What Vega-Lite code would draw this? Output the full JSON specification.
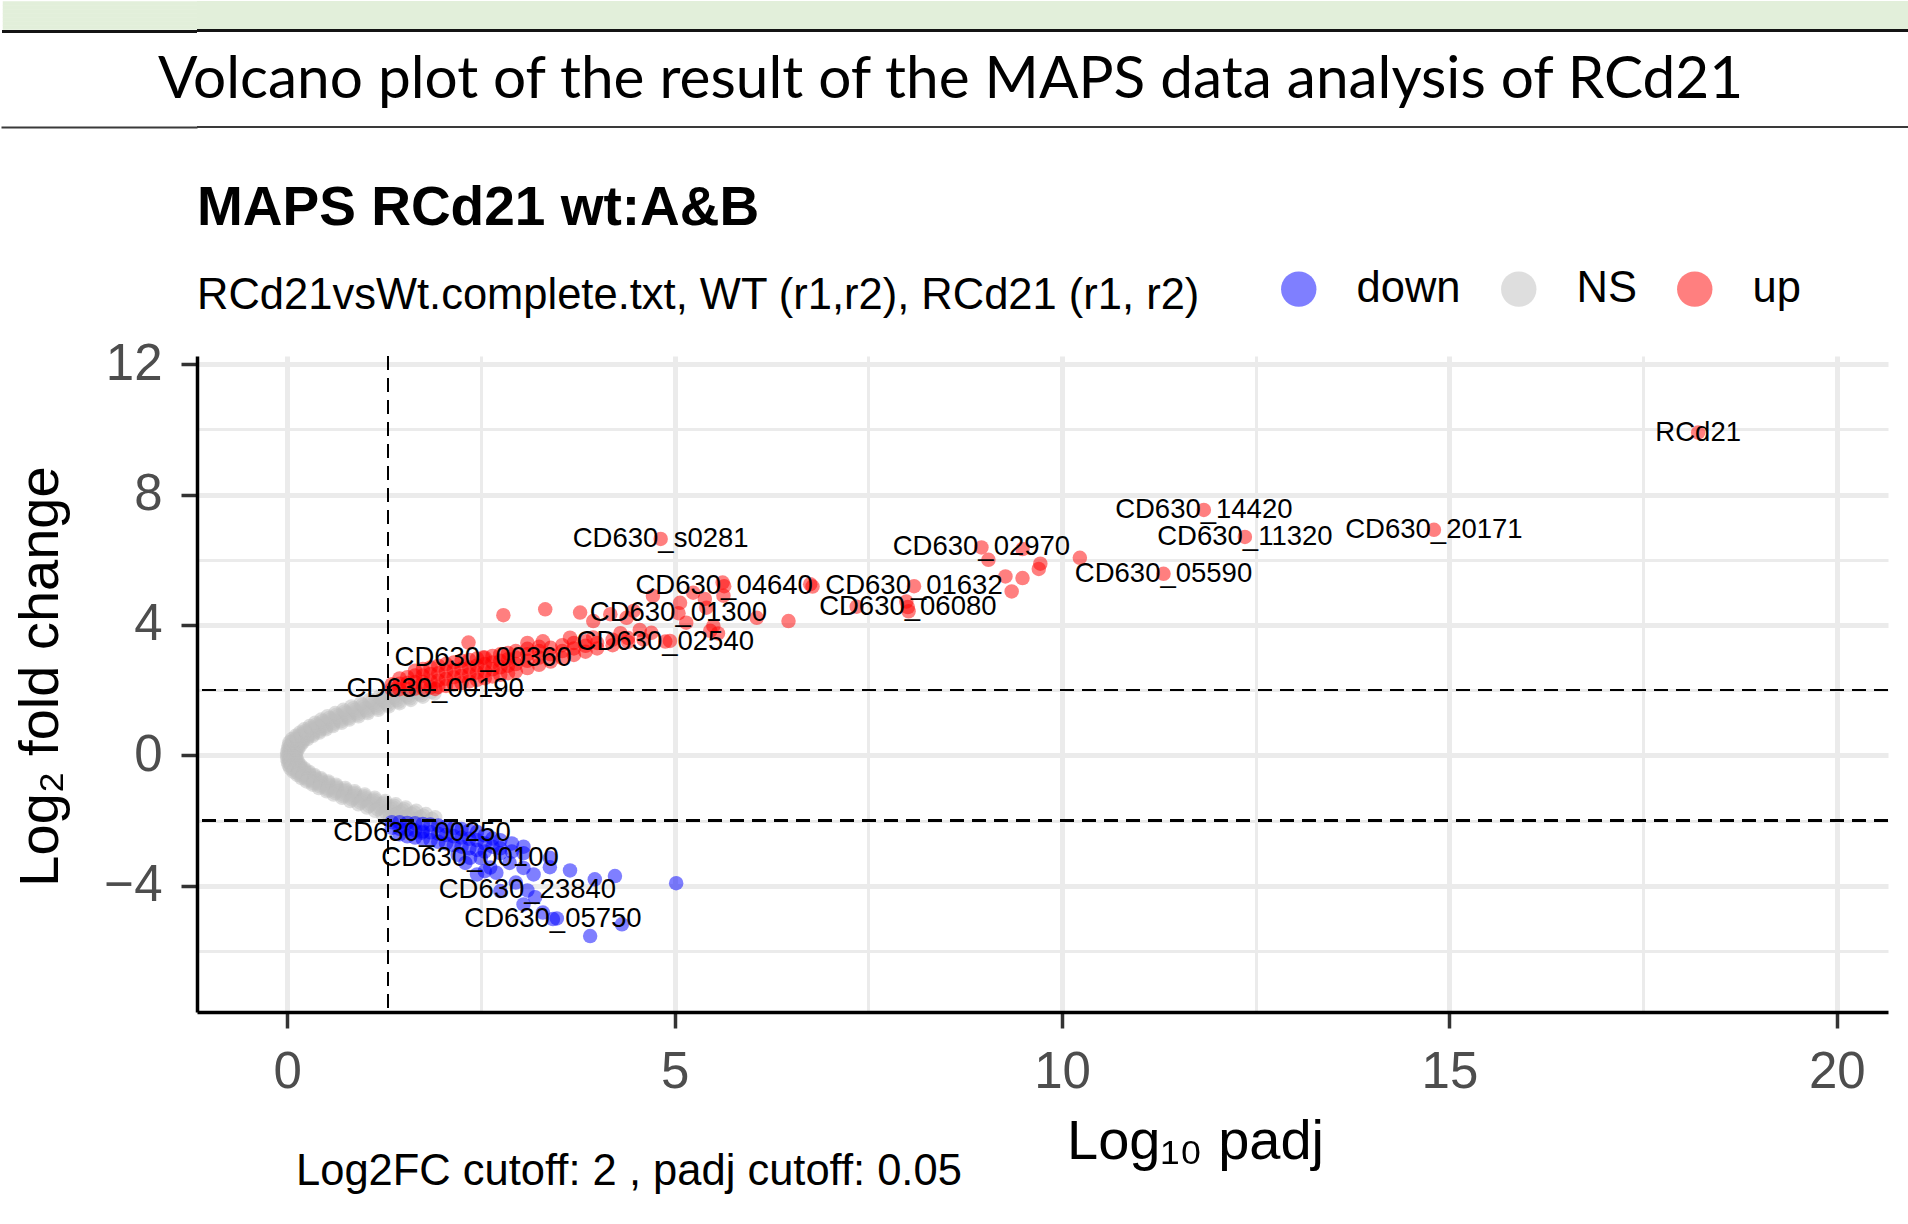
{
"$schema": "https://vega.github.io/schema/vega-lite/v6.json",
"padding": 0,
"background": "white",
"columns": 1,
"align": "none",
"spacing": 53,
"resolve": {"scale": {"color": "independent"}},
"config": {"view": {"stroke": null}, "font": "Liberation Sans"},
"datasets": {
"pts": [
{"x":0,"y":0,"g":"NS"},{"x":0.037,"y":0,"g":"NS"},{"x":0.073,"y":0,"g":"NS"},{"x":0.11,"y":0,"g":"NS"},
{"x":0.019,"y":0.05,"g":"NS"},{"x":0.058,"y":0.05,"g":"NS"},{"x":0.096,"y":0.05,"g":"NS"},
{"x":0,"y":0.1,"g":"NS"},{"x":0.04,"y":0.1,"g":"NS"},{"x":0.08,"y":0.1,"g":"NS"},{"x":0.12,"y":0.1,"g":"NS"},
{"x":0.026,"y":0.15,"g":"NS"},{"x":0.068,"y":0.15,"g":"NS"},{"x":0.109,"y":0.15,"g":"NS"},
{"x":0.01,"y":0.2,"g":"NS"},{"x":0.053,"y":0.2,"g":"NS"},{"x":0.097,"y":0.2,"g":"NS"},{"x":0.14,"y":0.2,"g":"NS"},
{"x":0.038,"y":0.25,"g":"NS"},{"x":0.085,"y":0.25,"g":"NS"},{"x":0.132,"y":0.25,"g":"NS"},
{"x":0.02,"y":0.3,"g":"NS"},{"x":0.07,"y":0.3,"g":"NS"},{"x":0.12,"y":0.3,"g":"NS"},{"x":0.17,"y":0.3,"g":"NS"},
{"x":0.052,"y":0.35,"g":"NS"},{"x":0.105,"y":0.35,"g":"NS"},{"x":0.158,"y":0.35,"g":"NS"},
{"x":0.03,"y":0.4,"g":"NS"},{"x":0.087,"y":0.4,"g":"NS"},{"x":0.143,"y":0.4,"g":"NS"},{"x":0.2,"y":0.4,"g":"NS"},
{"x":0.076,"y":0.45,"g":"NS"},{"x":0.138,"y":0.45,"g":"NS"},{"x":0.199,"y":0.45,"g":"NS"},
{"x":0.06,"y":0.5,"g":"NS"},{"x":0.127,"y":0.5,"g":"NS"},{"x":0.193,"y":0.5,"g":"NS"},{"x":0.26,"y":0.5,"g":"NS"},
{"x":0.12,"y":0.55,"g":"NS"},{"x":0.19,"y":0.55,"g":"NS"},{"x":0.26,"y":0.55,"g":"NS"},
{"x":0.11,"y":0.6,"g":"NS"},{"x":0.183,"y":0.6,"g":"NS"},{"x":0.257,"y":0.6,"g":"NS"},{"x":0.33,"y":0.6,"g":"NS"},
{"x":0.177,"y":0.65,"g":"NS"},{"x":0.255,"y":0.65,"g":"NS"},{"x":0.334,"y":0.65,"g":"NS"},
{"x":0.165,"y":0.7,"g":"NS"},{"x":0.248,"y":0.7,"g":"NS"},{"x":0.332,"y":0.7,"g":"NS"},{"x":0.415,"y":0.7,"g":"NS"},
{"x":0.237,"y":0.75,"g":"NS"},{"x":0.325,"y":0.75,"g":"NS"},{"x":0.414,"y":0.75,"g":"NS"},
{"x":0.22,"y":0.8,"g":"NS"},{"x":0.313,"y":0.8,"g":"NS"},{"x":0.407,"y":0.8,"g":"NS"},{"x":0.5,"y":0.8,"g":"NS"},
{"x":0.303,"y":0.85,"g":"NS"},{"x":0.4,"y":0.85,"g":"NS"},{"x":0.497,"y":0.85,"g":"NS"},
{"x":0.29,"y":0.9,"g":"NS"},{"x":0.39,"y":0.9,"g":"NS"},{"x":0.49,"y":0.9,"g":"NS"},{"x":0.59,"y":0.9,"g":"NS"},
{"x":0.378,"y":0.95,"g":"NS"},{"x":0.485,"y":0.95,"g":"NS"},{"x":0.592,"y":0.95,"g":"NS"},
{"x":0.36,"y":1.0,"g":"NS"},{"x":0.473,"y":1.0,"g":"NS"},{"x":0.587,"y":1.0,"g":"NS"},{"x":0.7,"y":1.0,"g":"NS"},
{"x":0.458,"y":1.05,"g":"NS"},{"x":0.575,"y":1.05,"g":"NS"},{"x":0.692,"y":1.05,"g":"NS"},
{"x":0.44,"y":1.1,"g":"NS"},{"x":0.56,"y":1.1,"g":"NS"},{"x":0.68,"y":1.1,"g":"NS"},{"x":0.8,"y":1.1,"g":"NS"},
{"x":0.543,"y":1.15,"g":"NS"},{"x":0.67,"y":1.15,"g":"NS"},{"x":0.797,"y":1.15,"g":"NS"},
{"x":0.52,"y":1.2,"g":"NS"},{"x":0.653,"y":1.2,"g":"NS"},{"x":0.787,"y":1.2,"g":"NS"},{"x":0.92,"y":1.2,"g":"NS"},
{"x":0.638,"y":1.25,"g":"NS"},{"x":0.775,"y":1.25,"g":"NS"},{"x":0.912,"y":1.25,"g":"NS"},
{"x":0.62,"y":1.3,"g":"NS"},{"x":0.76,"y":1.3,"g":"NS"},{"x":0.9,"y":1.3,"g":"NS"},{"x":1.04,"y":1.3,"g":"NS"},
{"x":0.745,"y":1.35,"g":"NS"},{"x":0.89,"y":1.35,"g":"NS"},{"x":1.035,"y":1.35,"g":"NS"},
{"x":0.725,"y":1.4,"g":"NS"},{"x":0.875,"y":1.4,"g":"NS"},{"x":1.025,"y":1.4,"g":"NS"},{"x":1.175,"y":1.4,"g":"NS"},
{"x":0.855,"y":1.45,"g":"NS"},{"x":1.01,"y":1.45,"g":"NS"},{"x":1.165,"y":1.45,"g":"NS"},
{"x":0.83,"y":1.5,"g":"NS"},{"x":0.99,"y":1.5,"g":"NS"},{"x":1.15,"y":1.5,"g":"NS"},{"x":1.31,"y":1.5,"g":"NS"},
{"x":0.972,"y":1.55,"g":"NS"},{"x":1.135,"y":1.55,"g":"NS"},{"x":1.298,"y":1.55,"g":"NS"},
{"x":0.95,"y":1.6,"g":"NS"},{"x":1.117,"y":1.6,"g":"NS"},{"x":1.283,"y":1.6,"g":"NS"},{"x":1.45,"y":1.6,"g":"NS"},
{"x":1.094,"y":1.65,"g":"NS"},{"x":1.265,"y":1.65,"g":"NS"},{"x":1.437,"y":1.65,"g":"NS"},
{"x":1.065,"y":1.7,"g":"NS"},{"x":1.242,"y":1.7,"g":"NS"},{"x":1.418,"y":1.7,"g":"NS"},{"x":1.595,"y":1.7,"g":"NS"},
{"x":1.218,"y":1.75,"g":"NS"},{"x":1.4,"y":1.75,"g":"NS"},{"x":1.582,"y":1.75,"g":"NS"},
{"x":1.19,"y":1.8,"g":"NS"},{"x":1.377,"y":1.8,"g":"NS"},{"x":1.563,"y":1.8,"g":"NS"},{"x":1.75,"y":1.8,"g":"NS"},
{"x":1.35,"y":1.85,"g":"NS"},{"x":1.54,"y":1.85,"g":"NS"},{"x":1.73,"y":1.85,"g":"NS"},
{"x":1.32,"y":1.9,"g":"NS"},{"x":1.513,"y":1.9,"g":"NS"},{"x":1.707,"y":1.9,"g":"NS"},{"x":1.9,"y":1.9,"g":"NS"},
{"x":1.468,"y":1.95,"g":"NS"},{"x":1.665,"y":1.95,"g":"NS"},{"x":1.862,"y":1.95,"g":"NS"},
{"x":0.019,"y":-0.05,"g":"NS"},{"x":0.058,"y":-0.05,"g":"NS"},{"x":0.096,"y":-0.05,"g":"NS"},
{"x":0,"y":-0.1,"g":"NS"},{"x":0.04,"y":-0.1,"g":"NS"},{"x":0.08,"y":-0.1,"g":"NS"},{"x":0.12,"y":-0.1,"g":"NS"},
{"x":0.026,"y":-0.15,"g":"NS"},{"x":0.068,"y":-0.15,"g":"NS"},{"x":0.109,"y":-0.15,"g":"NS"},
{"x":0.01,"y":-0.2,"g":"NS"},{"x":0.053,"y":-0.2,"g":"NS"},{"x":0.097,"y":-0.2,"g":"NS"},{"x":0.14,"y":-0.2,"g":"NS"},
{"x":0.038,"y":-0.25,"g":"NS"},{"x":0.085,"y":-0.25,"g":"NS"},{"x":0.132,"y":-0.25,"g":"NS"},
{"x":0.02,"y":-0.3,"g":"NS"},{"x":0.07,"y":-0.3,"g":"NS"},{"x":0.12,"y":-0.3,"g":"NS"},{"x":0.17,"y":-0.3,"g":"NS"},
{"x":0.058,"y":-0.35,"g":"NS"},{"x":0.113,"y":-0.35,"g":"NS"},{"x":0.168,"y":-0.35,"g":"NS"},
{"x":0.04,"y":-0.4,"g":"NS"},{"x":0.1,"y":-0.4,"g":"NS"},{"x":0.16,"y":-0.4,"g":"NS"},{"x":0.22,"y":-0.4,"g":"NS"},
{"x":0.092,"y":-0.45,"g":"NS"},{"x":0.155,"y":-0.45,"g":"NS"},{"x":0.218,"y":-0.45,"g":"NS"},
{"x":0.08,"y":-0.5,"g":"NS"},{"x":0.147,"y":-0.5,"g":"NS"},{"x":0.213,"y":-0.5,"g":"NS"},{"x":0.28,"y":-0.5,"g":"NS"},
{"x":0.14,"y":-0.55,"g":"NS"},{"x":0.21,"y":-0.55,"g":"NS"},{"x":0.28,"y":-0.55,"g":"NS"},
{"x":0.13,"y":-0.6,"g":"NS"},{"x":0.203,"y":-0.6,"g":"NS"},{"x":0.277,"y":-0.6,"g":"NS"},{"x":0.35,"y":-0.6,"g":"NS"},
{"x":0.197,"y":-0.65,"g":"NS"},{"x":0.275,"y":-0.65,"g":"NS"},{"x":0.354,"y":-0.65,"g":"NS"},
{"x":0.185,"y":-0.7,"g":"NS"},{"x":0.268,"y":-0.7,"g":"NS"},{"x":0.352,"y":-0.7,"g":"NS"},{"x":0.435,"y":-0.7,"g":"NS"},
{"x":0.262,"y":-0.75,"g":"NS"},{"x":0.35,"y":-0.75,"g":"NS"},{"x":0.439,"y":-0.75,"g":"NS"},
{"x":0.25,"y":-0.8,"g":"NS"},{"x":0.343,"y":-0.8,"g":"NS"},{"x":0.437,"y":-0.8,"g":"NS"},{"x":0.53,"y":-0.8,"g":"NS"},
{"x":0.338,"y":-0.85,"g":"NS"},{"x":0.435,"y":-0.85,"g":"NS"},{"x":0.532,"y":-0.85,"g":"NS"},
{"x":0.33,"y":-0.9,"g":"NS"},{"x":0.43,"y":-0.9,"g":"NS"},{"x":0.53,"y":-0.9,"g":"NS"},{"x":0.63,"y":-0.9,"g":"NS"},
{"x":0.423,"y":-0.95,"g":"NS"},{"x":0.53,"y":-0.95,"g":"NS"},{"x":0.637,"y":-0.95,"g":"NS"},
{"x":0.41,"y":-1.0,"g":"NS"},{"x":0.523,"y":-1.0,"g":"NS"},{"x":0.637,"y":-1.0,"g":"NS"},{"x":0.75,"y":-1.0,"g":"NS"},
{"x":0.518,"y":-1.05,"g":"NS"},{"x":0.635,"y":-1.05,"g":"NS"},{"x":0.752,"y":-1.05,"g":"NS"},
{"x":0.51,"y":-1.1,"g":"NS"},{"x":0.63,"y":-1.1,"g":"NS"},{"x":0.75,"y":-1.1,"g":"NS"},{"x":0.87,"y":-1.1,"g":"NS"},
{"x":0.618,"y":-1.15,"g":"NS"},{"x":0.745,"y":-1.15,"g":"NS"},{"x":0.872,"y":-1.15,"g":"NS"},
{"x":0.6,"y":-1.2,"g":"NS"},{"x":0.733,"y":-1.2,"g":"NS"},{"x":0.867,"y":-1.2,"g":"NS"},{"x":1.0,"y":-1.2,"g":"NS"},
{"x":0.723,"y":-1.25,"g":"NS"},{"x":0.86,"y":-1.25,"g":"NS"},{"x":0.997,"y":-1.25,"g":"NS"},
{"x":0.71,"y":-1.3,"g":"NS"},{"x":0.85,"y":-1.3,"g":"NS"},{"x":0.99,"y":-1.3,"g":"NS"},{"x":1.13,"y":-1.3,"g":"NS"},
{"x":0.835,"y":-1.35,"g":"NS"},{"x":0.98,"y":-1.35,"g":"NS"},{"x":1.125,"y":-1.35,"g":"NS"},
{"x":0.815,"y":-1.4,"g":"NS"},{"x":0.965,"y":-1.4,"g":"NS"},{"x":1.115,"y":-1.4,"g":"NS"},{"x":1.265,"y":-1.4,"g":"NS"},
{"x":0.945,"y":-1.45,"g":"NS"},{"x":1.1,"y":-1.45,"g":"NS"},{"x":1.255,"y":-1.45,"g":"NS"},
{"x":0.92,"y":-1.5,"g":"NS"},{"x":1.08,"y":-1.5,"g":"NS"},{"x":1.24,"y":-1.5,"g":"NS"},{"x":1.4,"y":-1.5,"g":"NS"},
{"x":1.057,"y":-1.55,"g":"NS"},{"x":1.22,"y":-1.55,"g":"NS"},{"x":1.383,"y":-1.55,"g":"NS"},
{"x":1.03,"y":-1.6,"g":"NS"},{"x":1.197,"y":-1.6,"g":"NS"},{"x":1.363,"y":-1.6,"g":"NS"},{"x":1.53,"y":-1.6,"g":"NS"},
{"x":1.169,"y":-1.65,"g":"NS"},{"x":1.34,"y":-1.65,"g":"NS"},{"x":1.512,"y":-1.65,"g":"NS"},
{"x":1.135,"y":-1.7,"g":"NS"},{"x":1.312,"y":-1.7,"g":"NS"},{"x":1.488,"y":-1.7,"g":"NS"},{"x":1.665,"y":-1.7,"g":"NS"},
{"x":1.274,"y":-1.75,"g":"NS"},{"x":1.455,"y":-1.75,"g":"NS"},{"x":1.637,"y":-1.75,"g":"NS"},
{"x":1.23,"y":-1.8,"g":"NS"},{"x":1.417,"y":-1.8,"g":"NS"},{"x":1.603,"y":-1.8,"g":"NS"},{"x":1.79,"y":-1.8,"g":"NS"},
{"x":1.375,"y":-1.85,"g":"NS"},{"x":1.565,"y":-1.85,"g":"NS"},{"x":1.755,"y":-1.85,"g":"NS"},
{"x":1.33,"y":-1.9,"g":"NS"},{"x":1.523,"y":-1.9,"g":"NS"},{"x":1.717,"y":-1.9,"g":"NS"},{"x":1.91,"y":-1.9,"g":"NS"},
{"x":1.473,"y":-1.95,"g":"NS"},{"x":1.67,"y":-1.95,"g":"NS"},{"x":1.867,"y":-1.95,"g":"NS"},

{"x":1.35,"y":-2.05,"g":"down"},{"x":1.35,"y":-2.22,"g":"down"},
{"x":1.45,"y":-2.05,"g":"down"},{"x":1.45,"y":-2.25,"g":"down"},{"x":1.45,"y":-2.42,"g":"down"},
{"x":1.55,"y":-2.07,"g":"down"},{"x":1.55,"y":-2.28,"g":"down"},{"x":1.55,"y":-2.48,"g":"down"},
{"x":1.65,"y":-2.08,"g":"down"},{"x":1.65,"y":-2.3,"g":"down"},{"x":1.65,"y":-2.52,"g":"down"},
{"x":1.75,"y":-2.1,"g":"down"},{"x":1.75,"y":-2.33,"g":"down"},{"x":1.75,"y":-2.56,"g":"down"},
{"x":1.85,"y":-2.12,"g":"down"},{"x":1.85,"y":-2.36,"g":"down"},{"x":1.85,"y":-2.6,"g":"down"},
{"x":1.95,"y":-2.15,"g":"down"},{"x":1.95,"y":-2.4,"g":"down"},{"x":1.95,"y":-2.65,"g":"down"},
{"x":2.05,"y":-2.18,"g":"down"},{"x":2.05,"y":-2.44,"g":"down"},{"x":2.05,"y":-2.7,"g":"down"},
{"x":2.15,"y":-2.22,"g":"down"},{"x":2.15,"y":-2.48,"g":"down"},{"x":2.15,"y":-2.75,"g":"down"},
{"x":2.25,"y":-2.26,"g":"down"},{"x":2.25,"y":-2.52,"g":"down"},{"x":2.25,"y":-2.8,"g":"down"},
{"x":2.35,"y":-2.3,"g":"down"},{"x":2.35,"y":-2.56,"g":"down"},{"x":2.35,"y":-2.85,"g":"down"},
{"x":2.45,"y":-2.35,"g":"down"},{"x":2.45,"y":-2.6,"g":"down"},{"x":2.45,"y":-2.9,"g":"down"},
{"x":2.55,"y":-2.45,"g":"down"},{"x":2.55,"y":-2.7,"g":"down"},{"x":2.55,"y":-2.95,"g":"down"},
{"x":2.65,"y":-2.55,"g":"down"},{"x":2.65,"y":-2.8,"g":"down"},
{"x":2.75,"y":-2.6,"g":"down"},{"x":2.75,"y":-2.85,"g":"down"},{"x":2.75,"y":-3.0,"g":"down"},
{"x":2.9,"y":-2.7,"g":"down"},{"x":2.9,"y":-2.95,"g":"down"},
{"x":3.05,"y":-2.8,"g":"down"},{"x":3.05,"y":-3.0,"g":"down"},
{"x":5.02,"y":-3.92,"g":"down"},{"x":4.23,"y":-3.70,"g":"down"},{"x":3.97,"y":-3.80,"g":"down"},
{"x":3.65,"y":-3.53,"g":"down"},{"x":3.39,"y":-3.14,"g":"down"},{"x":3.18,"y":-3.65,"g":"down"},
{"x":3.91,"y":-5.54,"g":"down"},{"x":4.32,"y":-5.18,"g":"down"},{"x":3.48,"y":-5.0,"g":"down"},
{"x":3.30,"y":-4.82,"g":"down"},{"x":3.05,"y":-4.57,"g":"down"},{"x":2.75,"y":-4.16,"g":"down"},
{"x":2.45,"y":-3.65,"g":"down"},{"x":2.62,"y":-3.44,"g":"down"},{"x":3.05,"y":-3.45,"g":"down"},
{"x":3.39,"y":-3.43,"g":"down"},{"x":2.87,"y":-3.3,"g":"down"},{"x":2.2,"y":-3.05,"g":"down"},
{"x":2.5,"y":-3.15,"g":"down"},{"x":2.95,"y":-3.9,"g":"down"},{"x":3.2,"y":-4.35,"g":"down"},
{"x":2.3,"y":-3.3,"g":"down"},{"x":2.55,"y":-3.55,"g":"down"},{"x":2.7,"y":-3.6,"g":"down"},
{"x":1.74,"y":-2.37,"g":"down","label":"CD630_00250"},
{"x":2.36,"y":-3.14,"g":"down","label":"CD630_00100"},
{"x":3.10,"y":-4.14,"g":"down","label":"CD630_23840"},
{"x":3.43,"y":-5.02,"g":"down","label":"CD630_05750"},

{"x":1.35,"y":2.03,"g":"up"},{"x":1.35,"y":2.18,"g":"up"},
{"x":1.45,"y":2.03,"g":"up"},{"x":1.45,"y":2.2,"g":"up"},{"x":1.45,"y":2.36,"g":"up"},
{"x":1.55,"y":2.04,"g":"up"},{"x":1.55,"y":2.22,"g":"up"},{"x":1.55,"y":2.4,"g":"up"},
{"x":1.65,"y":2.05,"g":"up"},{"x":1.65,"y":2.25,"g":"up"},{"x":1.65,"y":2.45,"g":"up"},{"x":1.65,"y":2.6,"g":"up"},
{"x":1.75,"y":2.06,"g":"up"},{"x":1.75,"y":2.25,"g":"up"},{"x":1.75,"y":2.45,"g":"up"},{"x":1.75,"y":2.65,"g":"up"},
{"x":1.85,"y":2.08,"g":"up"},{"x":1.85,"y":2.28,"g":"up"},{"x":1.85,"y":2.5,"g":"up"},{"x":1.85,"y":2.7,"g":"up"},
{"x":1.95,"y":2.1,"g":"up"},{"x":1.95,"y":2.3,"g":"up"},{"x":1.95,"y":2.52,"g":"up"},{"x":1.95,"y":2.75,"g":"up"},
{"x":2.05,"y":2.13,"g":"up"},{"x":2.05,"y":2.35,"g":"up"},{"x":2.05,"y":2.57,"g":"up"},{"x":2.05,"y":2.8,"g":"up"},
{"x":2.15,"y":2.18,"g":"up"},{"x":2.15,"y":2.4,"g":"up"},{"x":2.15,"y":2.62,"g":"up"},{"x":2.15,"y":2.85,"g":"up"},
{"x":2.25,"y":2.22,"g":"up"},{"x":2.25,"y":2.44,"g":"up"},{"x":2.25,"y":2.66,"g":"up"},{"x":2.25,"y":2.9,"g":"up"},
{"x":2.35,"y":2.27,"g":"up"},{"x":2.35,"y":2.49,"g":"up"},{"x":2.35,"y":2.7,"g":"up"},{"x":2.35,"y":2.93,"g":"up"},
{"x":2.45,"y":2.32,"g":"up"},{"x":2.45,"y":2.54,"g":"up"},{"x":2.45,"y":2.76,"g":"up"},{"x":2.45,"y":2.97,"g":"up"},
{"x":2.55,"y":2.37,"g":"up"},{"x":2.55,"y":2.58,"g":"up"},{"x":2.55,"y":2.8,"g":"up"},{"x":2.55,"y":3.0,"g":"up"},
{"x":2.65,"y":2.42,"g":"up"},{"x":2.65,"y":2.64,"g":"up"},{"x":2.65,"y":2.85,"g":"up"},{"x":2.65,"y":3.05,"g":"up"},
{"x":2.75,"y":2.47,"g":"up"},{"x":2.75,"y":2.7,"g":"up"},{"x":2.75,"y":2.9,"g":"up"},{"x":2.75,"y":3.1,"g":"up"},
{"x":2.85,"y":2.52,"g":"up"},{"x":2.85,"y":2.75,"g":"up"},{"x":2.85,"y":2.95,"g":"up"},{"x":2.85,"y":3.14,"g":"up"},
{"x":2.95,"y":2.57,"g":"up"},{"x":2.95,"y":2.8,"g":"up"},{"x":2.95,"y":3.0,"g":"up"},{"x":2.95,"y":3.2,"g":"up"},
{"x":3.1,"y":2.68,"g":"up"},{"x":3.1,"y":2.9,"g":"up"},{"x":3.1,"y":3.1,"g":"up"},{"x":3.1,"y":3.27,"g":"up"},
{"x":3.25,"y":2.78,"g":"up"},{"x":3.25,"y":3.0,"g":"up"},{"x":3.25,"y":3.2,"g":"up"},{"x":3.25,"y":3.33,"g":"up"},
{"x":3.4,"y":2.88,"g":"up"},{"x":3.4,"y":3.1,"g":"up"},{"x":3.4,"y":3.3,"g":"up"},
{"x":3.55,"y":2.98,"g":"up"},{"x":3.55,"y":3.2,"g":"up"},{"x":3.55,"y":3.38,"g":"up"},
{"x":3.7,"y":3.08,"g":"up"},{"x":3.7,"y":3.28,"g":"up"},{"x":3.7,"y":3.45,"g":"up"},
{"x":3.85,"y":3.18,"g":"up"},{"x":3.85,"y":3.36,"g":"up"},{"x":3.85,"y":3.5,"g":"up"},
{"x":4.0,"y":3.28,"g":"up"},{"x":4.0,"y":3.45,"g":"up"},
{"x":4.2,"y":3.38,"g":"up"},{"x":4.2,"y":3.55,"g":"up"},
{"x":4.4,"y":3.48,"g":"up"},{"x":4.4,"y":3.6,"g":"up"},
{"x":4.6,"y":3.55,"g":"up"},
{"x":2.34,"y":3.46,"g":"up"},{"x":2.79,"y":4.30,"g":"up"},{"x":3.33,"y":4.48,"g":"up"},{"x":3.78,"y":4.38,"g":"up"},
{"x":3.65,"y":3.61,"g":"up"},{"x":3.95,"y":3.62,"g":"up"},{"x":3.95,"y":4.12,"g":"up"},{"x":4.17,"y":4.33,"g":"up"},
{"x":4.38,"y":4.22,"g":"up"},{"x":4.47,"y":4.43,"g":"up"},{"x":4.70,"y":3.76,"g":"up"},{"x":4.72,"y":4.89,"g":"up"},
{"x":4.94,"y":3.51,"g":"up"},{"x":5.07,"y":4.68,"g":"up"},{"x":5.15,"y":4.07,"g":"up"},{"x":5.24,"y":4.99,"g":"up"},
{"x":5.41,"y":4.53,"g":"up"},{"x":5.46,"y":3.82,"g":"up"},{"x":5.50,"y":3.97,"g":"up"},{"x":5.39,"y":4.8,"g":"up"},
{"x":5.56,"y":3.74,"g":"up"},{"x":5.63,"y":4.9,"g":"up"},{"x":5.62,"y":5.3,"g":"up"},{"x":6.06,"y":4.22,"g":"up"},
{"x":6.47,"y":4.12,"g":"up"},{"x":6.75,"y":5.25,"g":"up"},{"x":6.78,"y":5.18,"g":"up"},{"x":7.35,"y":4.56,"g":"up"},
{"x":7.99,"y":4.72,"g":"up"},{"x":8.02,"y":4.42,"g":"up"},{"x":9.05,"y":6.0,"g":"up"},{"x":9.27,"y":5.49,"g":"up"},
{"x":9.35,"y":5.03,"g":"up"},{"x":9.49,"y":5.44,"g":"up"},{"x":9.49,"y":6.33,"g":"up"},{"x":9.70,"y":5.72,"g":"up"},
{"x":9.72,"y":5.88,"g":"up"},{"x":10.23,"y":6.06,"g":"up"},{"x":4.3,"y":3.75,"g":"up"},{"x":4.55,"y":3.85,"g":"up"},
{"x":3.3,"y":3.5,"g":"up"},{"x":3.1,"y":3.45,"g":"up"},
{"x":18.21,"y":9.90,"g":"up","label":"RCd21"},
{"x":11.83,"y":7.53,"g":"up","label":"CD630_14420"},
{"x":12.36,"y":6.70,"g":"up","label":"CD630_11320"},
{"x":14.80,"y":6.92,"g":"up","label":"CD630_20171"},
{"x":11.31,"y":5.57,"g":"up","label":"CD630_05590"},
{"x":8.96,"y":6.38,"g":"up","label":"CD630_02970"},
{"x":8.09,"y":5.19,"g":"up","label":"CD630_01632"},
{"x":8.01,"y":4.55,"g":"up","label":"CD630_06080"},
{"x":4.82,"y":6.64,"g":"up","label":"CD630_s0281"},
{"x":5.64,"y":5.19,"g":"up","label":"CD630_04640"},
{"x":5.05,"y":4.36,"g":"up","label":"CD630_01300"},
{"x":4.88,"y":3.49,"g":"up","label":"CD630_02540"},
{"x":2.53,"y":3.0,"g":"up","label":"CD630_00360"},
{"x":1.91,"y":2.04,"g":"up","label":"CD630_00190"}
]
},
"concat": [
{
"spacing": 0,
"bounds": "flush",
"vconcat": [
{"width": 1711, "height": 28, "view": {"fill": "#e2efda", "stroke": null}, "data": {"values": [{"t": ""}]},
 "mark": {"type": "text", "fontSize": 1},
 "encoding": {"text": {"field": "t"},
  "y": {"datum": 0.5, "type": "quantitative", "scale": {"domain": [0, 1]},
   "axis": {"values": [0.9286, 0.7857, 0.6429, 0.5, 0.3571, 0.2143, 0.0714], "title": null, "labels": false, "domain": false, "grid": false, "ticks": true, "tickSize": 194.75, "tickWidth": 4.5, "tickColor": "#e2efda", "tickOpacity": 1, "tickCap": "butt", "minExtent": 0, "maxExtent": 200}}}},
{"width": 1711, "height": 3, "view": {"fill": "#141414", "stroke": null}, "data": {"values": [{"t": ""}]},
 "mark": {"type": "text", "fontSize": 1},
 "encoding": {"text": {"field": "t"},
  "y": {"datum": 0.5, "type": "quantitative", "scale": {"domain": [0, 1]},
   "axis": {"values": [0.5], "title": null, "labels": false, "domain": false, "grid": false, "ticks": true, "tickSize": 195.5, "tickWidth": 3, "tickColor": "#141414", "tickOpacity": 1, "tickCap": "butt", "minExtent": 0, "maxExtent": 200}}}},
{"width": 1711, "height": 94, "view": {"fill": "white", "stroke": null}, "data": {"values": [{"t": "Volcano plot of the result of the MAPS data analysis of RCd21"}]},
 "mark": {"type": "text", "font": "Lato", "fontSize": 58.5, "color": "black", "dx": -102, "dy": 1},
 "encoding": {"text": {"field": "t"}}},
{"width": 1711, "height": 2, "view": {"fill": "#3a3a3a", "stroke": null}, "data": {"values": [{"t": ""}]},
 "mark": {"type": "text", "fontSize": 1},
 "encoding": {"text": {"field": "t"},
  "y": {"datum": 0.5, "type": "quantitative", "scale": {"domain": [0, 1]},
   "axis": {"values": [0.5], "title": null, "labels": false, "domain": false, "grid": false, "ticks": true, "tickSize": 196, "tickWidth": 2, "tickColor": "#3a3a3a", "tickOpacity": 1, "tickCap": "butt", "minExtent": 0, "maxExtent": 200}}}}
]
},
{
"title": {"text": "Log2FC cutoff: 2 , padj cutoff: 0.05", "orient": "bottom", "anchor": "start", "frame": "group", "dx": 99, "offset": 16, "baseline": "alphabetic", "font": "Liberation Sans", "fontSize": 43.5, "fontWeight": "normal", "color": "black"},
"resolve": {"scale": {"color": "independent"}},
"vconcat": [
{
"width": 1691,
"height": 656,
"title": {"text": "MAPS RCd21 wt:A&B", "subtitle": "RCd21vsWt.complete.txt, WT (r1,r2), RCd21 (r1, r2)", "anchor": "start", "frame": "group", "font": "Liberation Sans", "fontSize": 55, "fontWeight": "bold", "color": "black", "subtitleFont": "Liberation Sans", "subtitleFontSize": 43.5, "subtitleColor": "black", "subtitlePadding": 37.5, "offset": -51},
"data": {"name": "pts"},
"layer": [
{
"mark": {"type": "circle", "size": 210, "opacity": 0.5},
"encoding": {
"x": {"field": "x", "type": "quantitative",
"scale": {"domain": [-1.164, 20.66], "nice": false, "zero": false},
"axis": {"title": "Log₁₀ padj", "values": [0, 2.5, 5, 7.5, 10, 12.5, 15, 17.5, 20], "format": "d",
"labelExpr": "datum.value % 5 === 0 ? datum.label : ''",
"grid": true, "gridColor": "#ebebeb",
"gridWidth": {"condition": {"test": "datum.value % 5 === 0", "value": 5}, "value": 3},
"domainColor": "black", "domainWidth": 3.5,
"tickColor": "#333333", "tickWidth": 3.5, "tickSize": 16,
"tickOpacity": {"condition": {"test": "datum.value % 5 === 0", "value": 1}, "value": 0},
"labelFont": "Liberation Sans", "labelFontSize": 51, "labelColor": "#4d4d4d", "labelPadding": 19,
"labelFlush": false, "labelOverlap": false,
"titleFont": "Liberation Sans", "titleFontSize": 56, "titleFontWeight": "normal", "titleColor": "black",
"titleX": 998, "titleY": 146, "titleBaseline": "alphabetic", "titleAlign": "center"}},
"y": {"field": "y", "type": "quantitative",
"scale": {"domain": [-7.87, 12.25], "nice": false, "zero": false},
"axis": {"title": "Log₂ fold change", "values": [-6, -4, -2, 0, 2, 4, 6, 8, 10, 12], "format": "d",
"labelExpr": "datum.value % 4 === 0 ? datum.label : ''",
"grid": true, "gridColor": "#ebebeb",
"gridWidth": {"condition": {"test": "datum.value % 4 === 0", "value": 5}, "value": 3},
"domainColor": "black", "domainWidth": 3.5,
"tickColor": "#333333", "tickWidth": 3.5, "tickSize": 16,
"tickOpacity": {"condition": {"test": "datum.value % 4 === 0", "value": 1}, "value": 0},
"labelFont": "Liberation Sans", "labelFontSize": 51, "labelColor": "#4d4d4d", "labelPadding": 19,
"labelOverlap": false, "minExtent": 197,
"titleFont": "Liberation Sans", "titleFontSize": 56, "titleFontWeight": "normal", "titleColor": "black",
"titleX": -140, "titleY": 320, "titleAngle": 270, "titleBaseline": "alphabetic", "titleAlign": "center"}},
"color": {"field": "g", "type": "nominal",
"scale": {"domain": ["down", "NS", "up"], "range": ["#0000ff", "#bebebe", "#ff0000"]},
"legend": {"title": null, "orient": "none", "legendX": 1080, "legendY": -89, "direction": "horizontal",
"symbolType": "circle", "symbolSize": 1250, "symbolOpacity": 0.5, "symbolStrokeWidth": 0,
"labelFont": "Liberation Sans", "labelFontSize": 43.5, "labelColor": "black", "labelOffset": 36, "columnPadding": 36}}
}
},
{"mark": {"type": "rule", "strokeDash": [14, 8], "strokeWidth": 1.8, "color": "black"}, "encoding": {"x": {"datum": 1.30103, "type": "quantitative"}}},
{"mark": {"type": "rule", "strokeDash": [14, 8], "strokeWidth": 1.8, "color": "black"}, "encoding": {"y": {"datum": 2, "type": "quantitative"}}},
{"mark": {"type": "rule", "strokeDash": [14, 8], "strokeWidth": 1.8, "color": "black"}, "encoding": {"y": {"datum": -2, "type": "quantitative"}}},
{"transform": [{"filter": "datum.label != null"}],
"mark": {"type": "text", "font": "Liberation Sans", "fontSize": 27.5, "color": "black", "align": "center", "baseline": "middle"},
"encoding": {"x": {"field": "x", "type": "quantitative"}, "y": {"field": "y", "type": "quantitative"}, "text": {"field": "label"}}}
]
}
]
}
]
}
